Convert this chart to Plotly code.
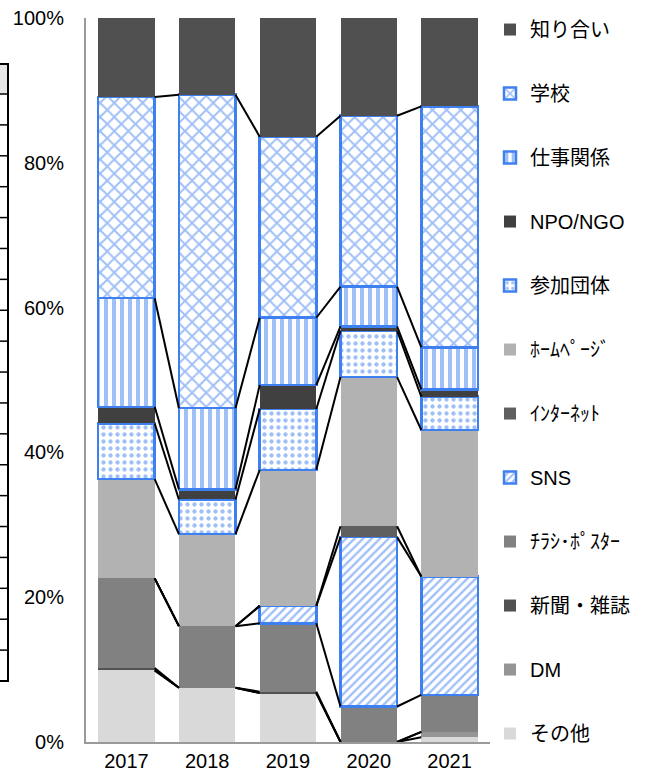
import plotly.graph_objects as go

# Survey: where respondents first heard about the event (share of answers, %)
years = ["2017", "2018", "2019", "2020", "2021"]
pct_ticks = [0, 20, 40, 60, 80, 100]
pct_labels = ["0%", "20%", "40%", "60%", "80%", "100%"]

# Series listed bottom -> top of the stack
sonota = [9.9, 7.5, 6.75, 0.0, 0.65]        # その他
dm = [0.0, 0.0, 0.0, 0.0, 0.75]             # DM
shinbun = [0.3, 0.0, 0.2, 0.0, 0.0]         # 新聞・雑誌
chirashi = [12.4, 8.5, 9.45, 4.9, 5.1]      # ﾁﾗｼ･ﾎﾟｽﾀｰ
sns = [0.0, 0.0, 2.4, 23.4, 16.35]          # SNS
internet = [0.0, 0.0, 0.0, 1.5, 0.0]        # ｲﾝﾀｰﾈｯﾄ
homepage = [13.7, 12.7, 18.8, 20.6, 20.25]  # ﾎｰﾑﾍﾟｰｼﾞ
sanka = [7.7, 4.8, 8.4, 6.4, 4.6]           # 参加団体
npo = [2.3, 1.4, 3.3, 0.6, 1.0]             # NPO/NGO
shigoto = [15.0, 11.2, 9.3, 5.5, 5.8]       # 仕事関係
gakko = [27.8, 43.3, 25.0, 23.6, 33.3]      # 学校
shiriai = [10.9, 10.6, 16.4, 13.5, 12.2]    # 知り合い

BLUE = "#3f80f0"
FONT = "Liberation Sans, Arial, Noto Sans CJK JP, sans-serif"

W, H = 649, 775
M_L, M_R, M_T, M_B = 86, 159, 18, 33
PLOT_W = W - M_L - M_R
PLOT_H = H - M_T - M_B

# name, values, fill colour, pattern shape (None = solid grey)
series = [
    ("その他", sonota, "#d9d9d9", None),
    ("DM", dm, "#959595", None),
    ("新聞・雑誌", shinbun, "#525252", None),
    ("ﾁﾗｼ･ﾎﾟｽﾀｰ", chirashi, "#818181", None),
    ("SNS", sns, BLUE, "/"),
    ("ｲﾝﾀｰﾈｯﾄ", internet, "#5f5f5f", None),
    ("ﾎｰﾑﾍﾟｰｼﾞ", homepage, "#b2b2b2", None),
    ("参加団体", sanka, BLUE, "."),
    ("NPO/NGO", npo, "#404040", None),
    ("仕事関係", shigoto, BLUE, "|"),
    ("学校", gakko, BLUE, "x"),
    ("知り合い", shiriai, "#505050", None),
]

pattern_style = {
    "/": dict(size=6, solidity=0.4),
    ".": dict(size=7, solidity=0.3),
    "|": dict(size=8, solidity=0.5),
    "x": dict(size=10, solidity=0.35),
}

BAR_W = 0.7
xpos = list(range(len(years)))

fig = go.Figure()

for i, (name, vals, color, shape) in enumerate(series):
    if shape is None:
        marker = dict(color=color, line=dict(width=0))
    else:
        marker = dict(
            color="white",
            line=dict(color=BLUE, width=2.5),
            pattern=dict(shape=shape, fgcolor=BLUE, bgcolor="white",
                         fillmode="overlay", **pattern_style[shape]),
        )
    # zero-height segments are left out so no stray outline is drawn
    yvals = [v if v > 0 else None for v in vals]
    fig.add_trace(go.Bar(
        x=xpos, y=yvals, name=name, width=BAR_W, marker=marker,
        legendgroup=name, legendrank=100 - i,
    ))

# Series lines joining the top of every segment between neighbouring bars
cum = [0.0] * len(years)
lx, ly = [], []
for name, vals, color, shape in series[:-1]:
    cum = [c + v for c, v in zip(cum, vals)]
    for k in range(len(years) - 1):
        lx += [k + BAR_W / 2, k + 1 - BAR_W / 2, None]
        ly += [cum[k], cum[k + 1], None]
fig.add_trace(go.Scatter(
    x=lx, y=ly, mode="lines", line=dict(color="black", width=2),
    showlegend=False, hoverinfo="skip",
))


# Edge of the worksheet table sitting behind the chart on the left
def px_x(px):
    return (px - M_L) / PLOT_W


def px_y(py):
    return (H - M_B - py) / PLOT_H


TBL_TOP, TBL_HEAD, TBL_BOTTOM, TBL_RIGHT, TBL_ROWS = 64, 94, 681, 8, 19
shapes = [
    dict(type="rect", xref="paper", yref="paper",
         x0=px_x(-10), x1=px_x(TBL_RIGHT), y0=px_y(TBL_HEAD), y1=px_y(TBL_TOP),
         fillcolor="#e6e6e6", line=dict(width=0), layer="below"),
    dict(type="rect", xref="paper", yref="paper",
         x0=px_x(-10), x1=px_x(TBL_RIGHT), y0=px_y(TBL_BOTTOM), y1=px_y(TBL_TOP),
         fillcolor="rgba(0,0,0,0)", line=dict(color="black", width=2)),
]
row_h = (TBL_BOTTOM - TBL_HEAD) / TBL_ROWS
for r in range(TBL_ROWS):
    yy = TBL_HEAD + r * row_h
    shapes.append(dict(type="line", xref="paper", yref="paper",
                       x0=px_x(-10), x1=px_x(TBL_RIGHT),
                       y0=px_y(yy), y1=px_y(yy),
                       line=dict(color="black", width=1.5)))

fig.update_layout(
    barmode="stack",
    width=W, height=H,
    margin=dict(l=M_L, r=M_R, t=M_T, b=M_B, autoexpand=False),
    paper_bgcolor="white", plot_bgcolor="white",
    font=dict(family=FONT, size=20, color="black"),
    showlegend=True,
    shapes=shapes,
    legend=dict(
        x=1.0, xanchor="left", y=1.011, yanchor="top",
        traceorder="grouped", tracegroupgap=35,
        font=dict(size=20), itemwidth=30, maxheight=800,
        bgcolor="rgba(0,0,0,0)",
    ),
    xaxis=dict(
        range=[-0.5, len(years) - 0.5],
        tickvals=xpos, ticktext=years, automargin=False,
        showline=True, linecolor="#9a9a9a", linewidth=2,
        showgrid=False, zeroline=False, ticks="",
        ticklabelstandoff=0, tickfont=dict(size=20),
    ),
    yaxis=dict(
        range=[0, 100], tickvals=pct_ticks, ticktext=pct_labels,
        automargin=False,
        showline=True, linecolor="#9a9a9a", linewidth=2,
        showgrid=False, zeroline=False, ticks="",
        ticklabelstandoff=16, tickfont=dict(size=20),
    ),
)

fig.write_html("out.html")
